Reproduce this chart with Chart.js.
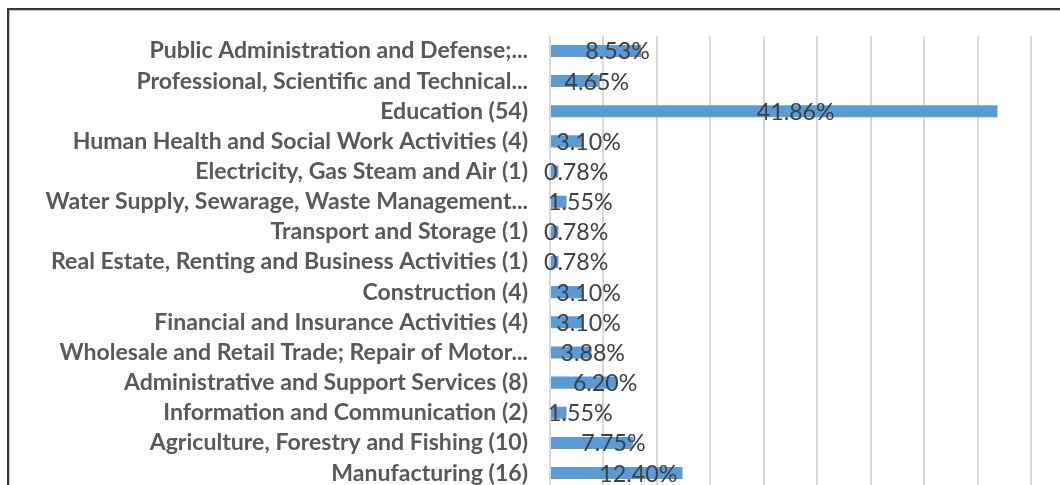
<!DOCTYPE html>
<html>
<head>
<meta charset="utf-8">
<script src="https://cdn.jsdelivr.net/npm/chart.js@4.4.0/dist/chart.umd.min.js"></script>
<style>
html,body{margin:0;padding:0;width:1060px;height:485px;overflow:hidden;background:#fff;}
#frame{position:absolute;left:7px;top:8px;width:1100px;height:600px;border-top:2px solid #3a3a3a;border-left:2px solid #3a3a3a;box-shadow:inset 1px 1px 0 #c8c8c8;}
#c{position:absolute;left:0;top:0;}
</style>
</head>
<body>
<div id="frame"></div>
<canvas id="c" width="1060" height="524"></canvas>
<script>
const categories = [
  "Public Administration and Defense;...",
  "Professional, Scientific and Technical...",
  "Education (54)",
  "Human Health and Social Work Activities (4)",
  "Electricity, Gas Steam and Air (1)",
  "Water Supply, Sewarage, Waste Management...",
  "Transport and Storage (1)",
  "Real Estate, Renting and Business Activities (1)",
  "Construction (4)",
  "Financial and Insurance Activities (4)",
  "Wholesale and Retail Trade; Repair of Motor...",
  "Administrative and Support Services (8)",
  "Information and Communication (2)",
  "Agriculture, Forestry and Fishing (10)",
  "Manufacturing (16)"
];
const shares = [8.53, 4.65, 41.86, 3.10, 0.78, 1.55, 0.78, 0.78, 3.10, 3.10, 3.88, 6.20, 1.55, 7.75, 12.40];
const valueLabels = ["8.53%","4.65%","41.86%","3.10%","0.78%","1.55%","0.78%","0.78%","3.10%","3.10%","3.88%","6.20%","1.55%","7.75%","12.40%"];
const axisMin = 0, axisMax = 45, axisStep = 5;

const mctx = document.createElement('canvas').getContext('2d');
function fitSize(text, target, weight, family){
  mctx.font = weight + ' 20px ' + family;
  return 20 * target / mctx.measureText(text).width;
}
const catSize = fitSize('Real Estate, Renting and Business Activities (1)', 477, 'bold', 'Lato');
const lblSize = fitSize('41.86%', 78, 'normal', 'Lato');

const labelPlugin = {
  id: 'vlabels',
  afterDatasetsDraw(chart){
    const ctx = chart.ctx, x = chart.scales.x;
    const meta = chart.getDatasetMeta(0);
    ctx.save();
    ctx.font = 'normal ' + lblSize + 'px Lato';
    ctx.fillStyle = '#404040';
    ctx.textAlign = 'center';
    ctx.textBaseline = 'middle';
    meta.data.forEach((bar, i) => {
      const cx = (x.getPixelForValue(0) + bar.x) / 2 + 22;
      ctx.fillText(valueLabels[i], cx, bar.y + 1);
    });
    ctx.restore();
  }
};

new Chart(document.getElementById('c'), {
  type: 'bar',
  data: {
    labels: categories,
    datasets: [{
      data: shares,
      backgroundColor: '#5B9BD5',
      barPercentage: 0.4,
      categoryPercentage: 1
    }]
  },
  options: {
    indexAxis: 'y',
    responsive: false,
    animation: false,
    devicePixelRatio: 1,
    layout: {padding: {top: 30, right: 29, bottom: 2, left: 0}},
    plugins: {legend: {display: false}, tooltip: {enabled: false}},
    scales: {
      x: {
        min: axisMin, max: axisMax,
        ticks: {stepSize: axisStep, display: false},
        grid: {color: '#D9D9D9', lineWidth: 2, drawTicks: false},
        border: {display: false},
        afterFit(s){ s.height = 0; }
      },
      y: {
        ticks: {font: {family: 'Lato', weight: 'bold', size: catSize}, color: '#595959', padding: 22, autoSkip: false},
        grid: {display: false, drawTicks: false},
        border: {display: false},
        afterFit(s){ s.width = 550; }
      }
    }
  },
  plugins: [labelPlugin]
});
</script>
</body>
</html>
